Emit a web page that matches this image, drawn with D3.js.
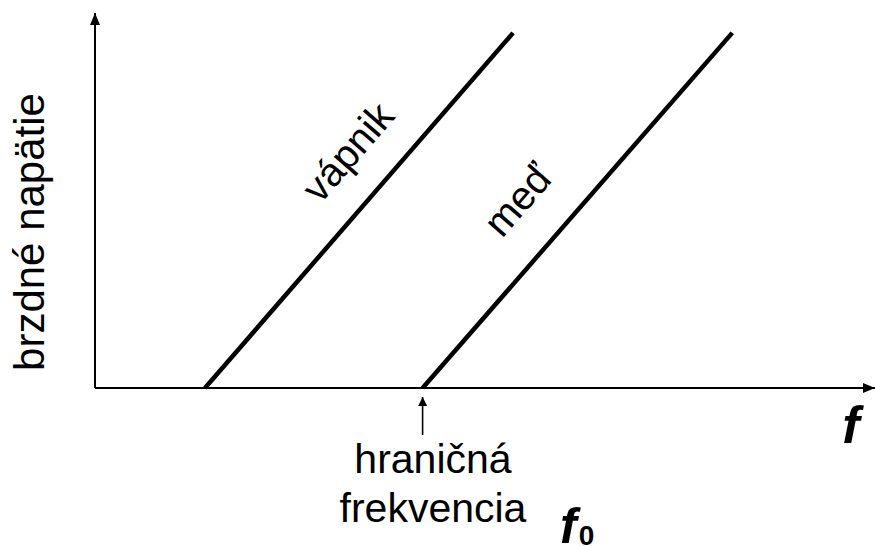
<!DOCTYPE html>
<html>
<head>
<meta charset="utf-8">
<script src="https://cdn.jsdelivr.net/npm/d3@7"></script>
<style>
  html, body { margin: 0; padding: 0; background: #fff; }
  svg { display: block; }
  text { font-family: "Liberation Sans", Arial, sans-serif; fill: #000; }
</style>
</head>
<body>
<svg id="chart" width="875" height="546"></svg>
<script>
// Metals and their stopping-voltage lines (frequency in arbitrary units, voltage in arbitrary units)
const metals = ["vápnik", "meď"];
const thresholdFreq = [14.1, 42.0];   // f0 where U = 0
const endFreq = [53.6, 81.7];         // f at the upper end of each line
const endVoltage = [94.7, 94.7];      // U at the upper end of each line

const axisLabelY = "brzdné napätie";
const axisLabelX = "f";
const markerLines = ["hraničná", "frekvencia"];
const markerSymbol = "f";
const markerSub = "0";
const markedMetal = 1;

const svg = d3.select("#chart");

const x = d3.scaleLinear().domain([0, 100]).range([95, 875]);
const y = d3.scaleLinear().domain([0, 100]).range([388, 13]);

// Arrowheads
const defs = svg.append("defs");
defs.append("marker")
  .attr("id", "axisArrow")
  .attr("viewBox", "0 0 12 10")
  .attr("refX", 12).attr("refY", 5)
  .attr("markerWidth", 12).attr("markerHeight", 10)
  .attr("markerUnits", "userSpaceOnUse")
  .attr("orient", "auto")
  .append("path").attr("d", "M0,0 L12,5 L0,10 Z").attr("fill", "#000");
defs.append("marker")
  .attr("id", "smallArrow")
  .attr("viewBox", "0 0 10 10")
  .attr("refX", 10).attr("refY", 5)
  .attr("markerWidth", 10).attr("markerHeight", 9)
  .attr("markerUnits", "userSpaceOnUse")
  .attr("orient", "auto")
  .append("path").attr("d", "M0,0 L10,5 L0,10 Z").attr("fill", "#000");

// Axes
const [x0, x1] = x.range();
const [y0, y1] = y.range();
svg.append("line")
  .attr("x1", x0).attr("y1", y0).attr("x2", x1).attr("y2", y0)
  .attr("stroke", "#000").attr("stroke-width", 2)
  .attr("marker-end", "url(#axisArrow)");
svg.append("line")
  .attr("x1", x0).attr("y1", y0).attr("x2", x0).attr("y2", y1)
  .attr("stroke", "#000").attr("stroke-width", 2)
  .attr("marker-end", "url(#axisArrow)");

// Stopping-voltage lines
const lines = metals.map((m, i) => ({
  name: m,
  pts: [[thresholdFreq[i], 0], [endFreq[i], endVoltage[i]]]
}));
const lineGen = d3.line().x(d => x(d[0])).y(d => y(d[1]));
svg.selectAll("path.metal")
  .data(lines)
  .join("path")
  .attr("class", "metal")
  .attr("d", d => lineGen(d.pts))
  .attr("fill", "none")
  .attr("stroke", "#000")
  .attr("stroke-width", 4.5)
  .attr("stroke-linecap", "butt");

// Line labels, rotated along each line and set off to its upper-left side
const labelAlong = [0.578, 0.434];
const labelOffset = [33, 38];
svg.selectAll("text.metal")
  .data(lines)
  .join("text")
  .attr("class", "metal")
  .attr("font-size", 40)
  .attr("text-anchor", "middle")
  .attr("transform", (d, i) => {
    const ax = x(d.pts[0][0]), ay = y(d.pts[0][1]);
    const bx = x(d.pts[1][0]), by = y(d.pts[1][1]);
    const t = labelAlong[i];
    const cx = ax + (bx - ax) * t, cy = ay + (by - ay) * t;
    const ang = Math.atan2(by - ay, bx - ax);
    const nx = Math.sin(ang), ny = -Math.cos(ang);
    const off = labelOffset[i];
    return `translate(${cx + nx * off},${cy + ny * off}) rotate(${ang * 180 / Math.PI})`;
  })
  .text(d => d.name);

// Y axis title
svg.append("text")
  .attr("font-size", 42)
  .attr("text-anchor", "middle")
  .attr("transform", "translate(44,232) rotate(-90)")
  .text(axisLabelY);

// X axis symbol
svg.append("text")
  .attr("font-size", 52)
  .attr("font-weight", "bold")
  .attr("font-style", "italic")
  .attr("text-anchor", "middle")
  .attr("x", 851).attr("y", 443)
  .text(axisLabelX);

// Threshold-frequency marker under copper
const fx = x(thresholdFreq[markedMetal]);
svg.append("line")
  .attr("x1", fx).attr("y1", 435).attr("x2", fx).attr("y2", 397)
  .attr("stroke", "#000").attr("stroke-width", 1.6)
  .attr("marker-end", "url(#smallArrow)");

svg.selectAll("text.marker")
  .data(markerLines)
  .join("text")
  .attr("class", "marker")
  .attr("font-size", 41)
  .attr("text-anchor", "middle")
  .attr("x", 433)
  .attr("y", (d, i) => 473 + i * 49)
  .text(d => d);

const f0 = svg.append("text")
  .attr("font-size", 50)
  .attr("font-weight", "bold")
  .attr("font-style", "italic")
  .attr("x", 560).attr("y", 543);
f0.append("tspan").text(markerSymbol);
f0.append("tspan")
  .attr("font-size", 28)
  .attr("font-style", "normal")
  .attr("dx", 2)
  .attr("dy", 2)
  .text(markerSub);
</script>
</body>
</html>
